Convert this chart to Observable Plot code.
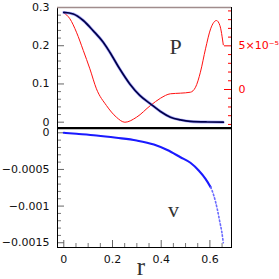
<!DOCTYPE html>
<html><head><meta charset="utf-8">
<script src="https://cdn.jsdelivr.net/npm/d3@7"></script>
<script src="https://cdn.jsdelivr.net/npm/@observablehq/plot@0.6"></script>
<style>
html,body{margin:0;padding:0;background:#fff;}
#chart svg{display:block;}
</style></head><body><div id="chart"></div>
<script>
// P(r) (left axis)
const rP = [0, 0.039, 0.080, 0.121, 0.162, 0.189, 0.230, 0.271, 0.312, 0.356, 0.397, 0.438, 0.479, 0.520, 0.589, 0.655];
const pValues = [0.287, 0.283, 0.266, 0.239, 0.209, 0.183, 0.139, 0.100, 0.070, 0.048, 0.028, 0.013, 0.006, 0.002, 0.0005, 0.0001];
// red curve (right axis, units of 1e-5)
const rRed = [0, 0.025, 0.052, 0.080, 0.107, 0.134, 0.175, 0.216, 0.251, 0.299, 0.356, 0.397, 0.438, 0.479, 0.520, 0.541, 0.561, 0.582, 0.603, 0.627, 0.641, 0.655];
const redValues = [8.79, 8.10, 6.56, 4.47, 2.37, 0.08, -1.83, -3.17, -3.75, -3.17, -1.83, -1.00, -0.49, -0.42, -0.31, 0.26, 1.98, 4.66, 6.95, 7.90, 7.33, 5.12];
// v(r) (units of 1e-4): solid part and dotted part
const rV = [0, 0.052, 0.134, 0.216, 0.299, 0.370, 0.425, 0.479, 0.520, 0.554, 0.582, 0.603];
const vValues = [0, -0.14, -0.37, -0.68, -1.05, -1.60, -2.35, -3.33, -4.09, -5.14, -6.28, -7.42];
const rVdot = [0.603, 0.616, 0.630, 0.641, 0.649, 0.655];
const vDotValues = [-7.42, -8.55, -10.37, -12.20, -13.56, -15.0];

// ticks
const pTicksMajor = [0, 0.1, 0.2, 0.3];
const pTicksMinor = [0.02, 0.04, 0.06, 0.08, 0.12, 0.14, 0.16, 0.18, 0.22, 0.24, 0.26, 0.28];
const redTicksMajor = [0, 5];
const redTicksMinor = [-4, -3, -2, -1, 1, 2, 3, 4, 6, 7, 8, 9];
const redTickLabels = ["0", "5×10⁻⁵"];
const vTicksMajor = [0, -0.0005, -0.001, -0.0015];
const vTicksMinor = [-0.0001, -0.0002, -0.0003, -0.0004, -0.0006, -0.0007, -0.0008, -0.0009, -0.0011, -0.0012, -0.0013, -0.0014];
const rTicksMajor = [0, 0.2, 0.4, 0.6];
const rTicksMinor = [0.05, 0.1, 0.15, 0.25, 0.3, 0.35, 0.45, 0.5, 0.55, 0.65];

// right-axis placement on the left scale (value of P where red 0 and red 5e-5 sit)
const redAt0 = 0.0855, redAt5 = 0.1997;
const toLeft = u => redAt0 + (redAt5 - redAt0) * u / 5;

const xDomain = [-0.0259, 0.6887];
const tickFont = "DejaVu Sans";
const serif = "Liberation Serif";
const fmtV = d => d === 0 ? "0" : "\u2212" + String(-d);

const pData = rP.map((r, i) => ({r, P: pValues[i]}));
const redData = rRed.map((r, i) => ({r, u: redValues[i]}));
const vData = rV.map((r, i) => ({r, v: vValues[i] * 1e-4}));
const vDotData = rVdot.map((r, i) => ({r, v: vDotValues[i] * 1e-4}));

const topPlot = Plot.plot({
  width: 279, height: 127,
  marginLeft: 57, marginRight: 48, marginTop: 7, marginBottom: 0,
  style: {fontFamily: tickFont, fontSize: "11px", background: "white", overflow: "visible"},
  x: {domain: xDomain, axis: null},
  y: {domain: [-0.0139, 0.3], axis: null, label: null},
  marks: [
    Plot.axisY(pTicksMinor, {anchor: "left", tickSize: -4, stroke: "#777", tickFormat: () => "", label: null}),
    Plot.axisY(pTicksMajor, {anchor: "left", tickSize: -7, stroke: "#666", tickFormat: () => "", label: null}),
    Plot.axisY(pTicksMajor, {anchor: "left", tickSize: 0, tickPadding: 8, fill: "#111", tickFormat: d => String(d), label: null}),
    Plot.axisY(redTicksMinor.map(toLeft), {anchor: "right", tickSize: -4, stroke: "red", tickFormat: () => "", label: null}),
    Plot.axisY(redTicksMajor.map(toLeft), {anchor: "right", tickSize: -8, stroke: "red", tickFormat: () => "", label: null}),
    Plot.text(redTicksMajor.map((u, i) => ({y: toLeft(u), label: redTickLabels[i]})), {
      y: "y", text: "label", frameAnchor: "right", dx: 7, textAnchor: "start", fill: "red",
      fontFamily: tickFont, fontSize: 11
    }),
    Plot.line(redData, {x: "r", y: d => toLeft(d.u), stroke: "#ff1010", strokeWidth: 1, curve: "monotone-x"}),
    Plot.line(pData, {x: "r", y: "P", stroke: "#6060ff", strokeOpacity: 0.5, strokeWidth: 3, curve: "monotone-x"}),
    Plot.line(pData, {x: "r", y: "P", stroke: "#00004a", strokeWidth: 1.7, curve: "monotone-x"}),
    Plot.frame({stroke: "black"}),
    Plot.ruleY([0.3], {stroke: "#a08c8c", strokeWidth: 1.5}),
    Plot.text(["P"], {text: d => d, frameAnchor: "top-left", dx: 112, dy: 31, fontFamily: serif, fontSize: 22, fill: "#333"})
  ]
});

const bottomPlot = Plot.plot({
  width: 279, height: 152,
  marginLeft: 57, marginRight: 48, marginTop: 1, marginBottom: 32,
  style: {fontFamily: tickFont, fontSize: "11px", background: "white", overflow: "visible"},
  x: {domain: xDomain, axis: null, label: null},
  y: {domain: [-0.001565, 0.0000587], axis: null, label: null},
  marks: [
    Plot.axisY(vTicksMinor, {anchor: "left", tickSize: -4, stroke: "#777", tickFormat: () => "", label: null}),
    Plot.axisY(vTicksMajor, {anchor: "left", tickSize: -7, stroke: "#666", tickFormat: () => "", label: null}),
    Plot.axisY(vTicksMajor, {anchor: "left", tickSize: 0, tickPadding: 8, fill: "#111", tickFormat: fmtV, label: null}),
    Plot.axisX(rTicksMinor, {anchor: "bottom", tickSize: -4, stroke: "#777", tickFormat: () => "", label: null}),
    Plot.axisX(rTicksMajor, {anchor: "bottom", tickSize: -7, stroke: "#666", tickFormat: () => "", label: null}),
    Plot.axisX(rTicksMajor, {anchor: "bottom", tickSize: 0, tickPadding: 8, fill: "#111", tickFormat: d => String(d), label: null}),
    Plot.line(vData, {x: "r", y: "v", stroke: "#1a1aff", strokeWidth: 2.1, curve: "monotone-x"}),
    Plot.line(vDotData, {x: "r", y: "v", stroke: "#6a6aff", strokeWidth: 1.6, strokeDasharray: "1.5,2.3", curve: "monotone-x"}),
    Plot.frame({stroke: "black"}),
    Plot.ruleY([0.0000587], {stroke: "black", strokeWidth: 1.5}),
    Plot.text(["v"], {text: d => d, frameAnchor: "top-left", dx: 110.5, dy: 73, fontFamily: serif, fontSize: 22, fill: "#333"}),
    Plot.text(["r"], {text: d => d, frameAnchor: "bottom", dx: -3.5, dy: 27, fontFamily: serif, fontSize: 25, fill: "#333"})
  ]
});

const chart = document.getElementById("chart");
chart.appendChild(topPlot);
chart.appendChild(bottomPlot);
</script>
</body></html>
